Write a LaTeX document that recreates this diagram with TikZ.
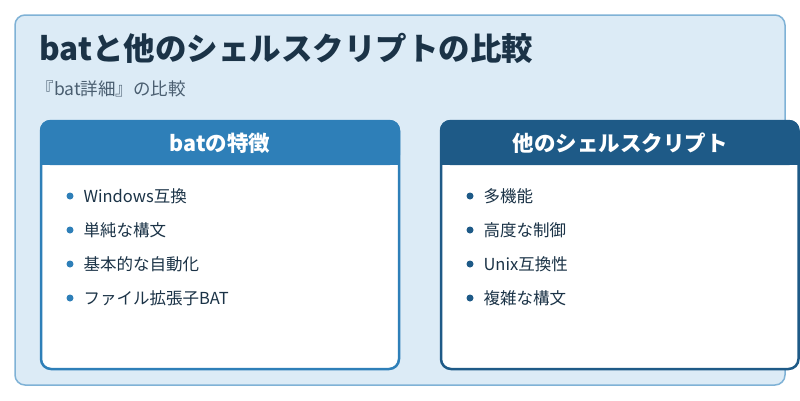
\documentclass[tikz,border=0pt]{standalone}
\usepackage{fontspec}
\setmainfont{Noto Sans CJK JP}
\definecolor{bgblue}{HTML}{DCEBF6}
\definecolor{rimblue}{HTML}{7FB2D6}
\definecolor{leftblue}{HTML}{2E7FB8}
\definecolor{rightblue}{HTML}{1E5A87}
\definecolor{inkdark}{HTML}{1B3347}
\definecolor{inkgray}{HTML}{4A5E70}
\tikzset{
  itemtext/.style={anchor=west, text=inkdark, font=\fontsize{16.5}{19}\selectfont},
  headtext/.style={text=white, font=\bfseries\fontsize{21.5}{24}\selectfont},
}
\begin{document}
\begin{tikzpicture}[x=1pt,y=-1pt]

\useasboundingbox (0,0) rectangle (800,400);
\fill[white] (0,0) rectangle (800,400);
\draw[rimblue, fill=bgblue, line width=1.5pt, rounded corners=10pt] (15,15) rectangle (785,385);

\node[anchor=west, text=inkdark, font=\bfseries\fontsize{31.5}{34}\selectfont] (title) at (36,48) {batと他のシェルスクリプトの比較};
\node[anchor=west, text=inkgray, font=\fontsize{17.5}{20}\selectfont] (subtitle) at (33,89) {『bat詳細』の比較};

% left card
\draw[leftblue, fill=white, line width=2.5pt, rounded corners=10pt] (41,121) rectangle (399,369);
\fill[leftblue, rounded corners=10pt] (40,120) -- (400,120) -- (400,165) -- (40,165) -- cycle;
\fill[leftblue] (40,150) rectangle (400,165);
\node[headtext] (lefthead) at (220,143) {batの特徴};

% right card
\draw[rightblue, fill=white, line width=2.5pt, rounded corners=10pt] (441,121) rectangle (798.5,369);
\fill[rightblue, rounded corners=10pt] (440,120) -- (799.5,120) -- (799.5,165) -- (440,165) -- cycle;
\fill[rightblue] (440,150) rectangle (799.5,165);
\node[headtext] (righthead) at (620,143) {他のシェルスクリプト};

\foreach \txt [count=\i] in {Windows互換, 単純な構文, 基本的な自動化, ファイル拡張子BAT} {
  \fill[leftblue] (70,{162+34*\i}) circle (3.5);
  \node[itemtext] (left\i) at (80,{162+34*\i}) {\txt};
}
\foreach \txt [count=\i] in {多機能, 高度な制御, Unix互換性, 複雑な構文} {
  \fill[rightblue] (470,{162+34*\i}) circle (3.5);
  \node[itemtext] (right\i) at (480,{162+34*\i}) {\txt};
}

\end{tikzpicture}
\end{document}
